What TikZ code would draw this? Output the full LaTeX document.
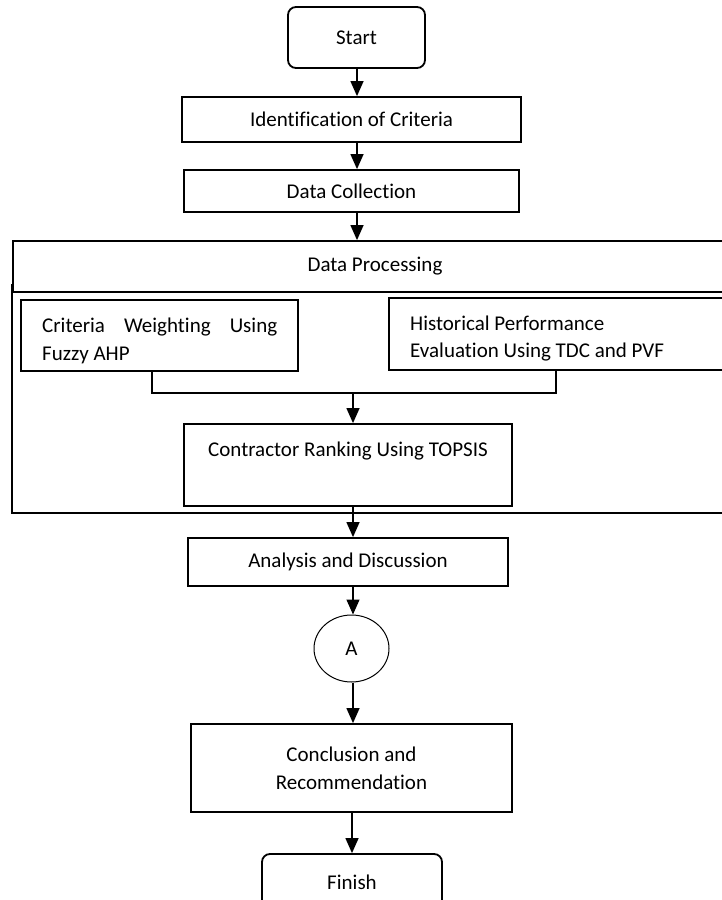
\documentclass[tikz,border=0pt]{standalone}
\usepackage{fontspec}
\setmainfont{Carlito}[Ligatures={NoCommon}]
\usetikzlibrary{arrows.meta,shapes.geometric,calc}
\begin{document}
\begin{tikzpicture}[x=1pt,y=-1pt,
  every node/.style={font=\fontsize{21}{28}\selectfont, inner sep=0pt},
  box/.style={draw, line width=1.8pt, fill=white, rectangle},
  term/.style={box, rounded corners=8pt},
  txt/.style={anchor=base west},
  arr/.style={line width=1.3pt, -{Triangle[width=13pt,length=15pt]}},
  conn/.style={line width=1.3pt},
  frame/.style={draw, line width=1.8pt, rectangle}]
\useasboundingbox (0,0) rectangle (722,900);
\fill[white] (0,0) rectangle (722,900);

\coordinate (ax) at (353,0);
\coordinate (tx) at (357,0);
\coordinate (fx) at (352,0);

\node[term, minimum width=137pt, minimum height=61pt] (start) at (356.5,37.5) {Start};
\node[box, minimum width=339pt, minimum height=45pt] (ident) at (351.5,119.5) {Identification of Criteria};
\node[box, minimum width=335pt, minimum height=42pt] (dc) at (351.5,191) {Data Collection};

\begin{scope}
\clip (0,0) rectangle (722,900);
\node[frame, minimum width=730pt, minimum height=228pt] (dpframe) at (377,399) {};
\node[box, minimum width=724pt, minimum height=51pt] (dp) at (375,266.5) {Data Processing};
\node[box, minimum width=356pt, minimum height=72pt] (hist) at (567,334) {};
\node[term, minimum width=180pt, minimum height=57pt] (fin) at (352,882.5) {Finish};
\end{scope}

\node[box, minimum width=277pt, minimum height=71pt] (crit) at (159.5,335.5) {};
\node[txt] (crit1) at (42,332) {\makebox[235pt][s]{Criteria\hfill Weighting\hfill Using}};
\node[txt] (crit2) at (42,360) {Fuzzy AHP};

\node[txt] (hist1) at (410,330) {Historical Performance};
\node[txt] (hist2) at (410,357) {Evaluation Using TDC and PVF};

\node[box, minimum width=328pt, minimum height=82pt] (topsis) at (348,465) {};
\node[anchor=base] (topsistxt) at (348,456) {Contractor Ranking Using TOPSIS};

\node[box, minimum width=320pt, minimum height=48pt] (anal) at (348,562) {Analysis and Discussion};
\node[draw, ellipse, line width=1pt, fill=white, minimum width=75pt, minimum height=67pt] (A) at (351.5,648.5) {A};
\node[box, minimum width=321pt, minimum height=88pt, align=center] (concl) at (351.5,768) {Conclusion and\\Recommendation};

\draw[arr] (start.south -| tx) -- (ident.north -| tx);
\draw[arr] (ident.south -| tx) -- (dc.north -| tx);
\draw[arr] (dc.south -| tx) -- (dp.north -| tx);

\coordinate (merge) at (353,393);
\draw[conn] ([xshift=-7.5pt]crit.south) |- (merge) -| ([xshift=-11pt]hist.south);
\draw[arr] (merge) -- (topsis.north -| merge);
\draw[arr] (topsis.south -| ax) -- (anal.north -| ax);
\draw[arr] (anal.south -| ax) -- (A.north -| ax);
\draw[arr] (A.south -| ax) -- (concl.north -| ax);
\draw[arr] (concl.south -| fx) -- (fin.north -| fx);
\end{tikzpicture}
\end{document}
